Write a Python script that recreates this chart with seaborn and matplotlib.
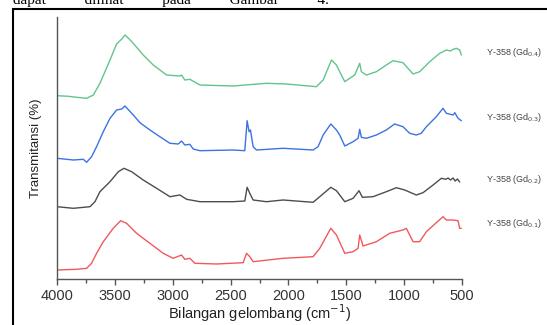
import numpy as np
import pandas as pd
import matplotlib
matplotlib.use("Agg")
import matplotlib.pyplot as plt
from matplotlib.patches import Rectangle
from matplotlib.ticker import MultipleLocator
import seaborn as sns

# ---- data (wavenumber cm^-1, relative transmittance, stacked offsets) ----
green_w = [4000, 3900, 3830, 3744, 3686, 3629, 3542, 3485, 3440, 3413, 3380, 3341, 3255, 3168, 3053,
           2938, 2924, 2895, 2852, 2765, 2478, 2190, 2017, 1758, 1700, 1628, 1585, 1557,
           1513, 1470, 1427, 1384, 1370, 1326, 1240, 1154, 1096, 1010, 923, 866, 779, 693,
           635, 600, 577, 549, 520, 506]
green_t = [184.3, 183.7, 182.7, 181.7, 185.0, 196.7, 220.0, 236.0, 241.0, 245.0, 241.5, 236.7, 225.0, 215.0, 205.0,
           204.0, 205.0, 200.0, 200.7, 195.0, 194.0, 196.7, 196.0, 193.3, 200.0, 220.0, 215.0, 208.3,
           198.3, 201.7, 205.0, 216.7, 208.3, 205.0, 208.3, 215.0, 219.3, 217.3, 206.0, 208.3, 218.3, 226.7,
           230.0, 229.0, 230.7, 231.7, 230.0, 225.0]

blue_w = [4000, 3859, 3773, 3744, 3701, 3658, 3600, 3542, 3485, 3440, 3413, 3341, 3283, 3197, 3111,
          3024, 2952, 2924, 2895, 2852, 2823, 2765, 2478, 2377, 2357, 2340, 2328, 2305, 2276,
          2046, 1787, 1744, 1700, 1634, 1585, 1557, 1513, 1441, 1398, 1384, 1370, 1326, 1240,
          1154, 1082, 1010, 952, 895, 852, 808, 722, 664, 635, 577, 562, 534, 506]
blue_t = [121.7, 120.0, 120.7, 117.7, 123.3, 133.3, 148.3, 161.7, 170.0, 171.0, 174.0, 165.0, 157.3, 150.0, 143.3,
          136.7, 136.0, 139.0, 135.0, 135.7, 131.0, 129.3, 130.0, 129.3, 159.3, 148.3, 150.0, 133.3, 130.0,
          131.7, 130.0, 133.3, 145.0, 156.0, 150.0, 145.0, 134.0, 138.3, 141.7, 150.7, 142.7, 141.7, 145.0,
          150.0, 156.0, 153.3, 146.7, 145.0, 146.7, 153.3, 163.3, 171.7, 166.7, 165.0, 167.3, 161.7, 159.3]

gray_w = [4000, 3859, 3715, 3672, 3629, 3542, 3470, 3421, 3355, 3255, 3139, 3024, 2938, 2880,
          2765, 2478, 2377, 2357, 2334, 2305, 2190, 2046, 1787, 1729, 1634, 1585, 1513, 1441,
          1390, 1361, 1269, 1154, 1067, 995, 895, 837, 750, 678, 640, 620, 600, 577, 560, 540, 520]
gray_t = [73.3, 71.7, 73.3, 78.3, 88.3, 98.3, 108.3, 111.7, 108.3, 100.0, 91.7, 83.3, 85.0, 80.7,
          78.3, 78.3, 79.0, 92.7, 86.7, 80.0, 78.3, 80.0, 77.7, 83.3, 92.7, 89.3, 78.3, 81.7,
          89.3, 82.7, 83.3, 88.3, 92.3, 90.0, 85.0, 87.3, 95.0, 101.7, 100.7, 102.0, 100.0, 102.0, 99.0, 101.0, 98.0]

red_w = [4000, 3830, 3744, 3701, 3658, 3600, 3514, 3450, 3399, 3312, 3197, 3082, 2996, 2924,
         2895, 2852, 2808, 2621, 2391, 2362, 2334, 2305, 2046, 1787, 1729, 1634, 1585, 1513,
         1441, 1398, 1384, 1355, 1240, 1125, 1010, 981, 923, 866, 808, 722, 664, 635, 577,
         534, 520, 506]
red_t = [10.0, 10.7, 11.7, 16.7, 26.7, 38.3, 51.7, 59.3, 56.7, 46.7, 36.7, 26.7, 21.7, 25.0,
         20.7, 21.7, 16.7, 16.0, 17.3, 26.7, 23.3, 18.3, 21.7, 23.3, 31.7, 51.7, 45.0, 26.7,
         28.3, 31.7, 45.0, 34.0, 38.3, 46.7, 50.0, 51.7, 38.3, 38.3, 48.3, 57.3, 63.3, 60.0, 60.0,
         59.3, 51.7, 51.7]

series_labels = [r"Y-358 (Gd$_{0.4}$)", r"Y-358 (Gd$_{0.3}$)", r"Y-358 (Gd$_{0.2}$)", r"Y-358 (Gd$_{0.1}$)"]
label_y = [227.7, 162.7, 100.0, 56.0]
x_ticks = [4000, 3500, 3000, 2500, 2000, 1500, 1000, 500]

colors = ["#63c48c", "#3b73e0", "#4d4d4d", "#f0595e"]

sns.set_theme(style="white")
plt.rcParams['font.family'] = ['Liberation Sans', 'DejaVu Sans']

fig = plt.figure(figsize=(5.47, 3.25), dpi=100)
ax = fig.add_axes([57/547, 1 - 279/325, 405/547, (279 - 17)/325])

for w, t, c in zip([green_w, blue_w, gray_w, red_w], [green_t, blue_t, gray_t, red_t], colors):
    df = pd.DataFrame({"w": w, "t": t})
    sns.lineplot(data=df, x="w", y="t", color=c, linewidth=1.0, ax=ax, sort=False, estimator=None)

for lab, ly, c in zip(series_labels, label_y, colors):
    ax.text(290, ly, lab, fontsize=6.5, color="#444444", va="center", ha="left", clip_on=False)

ax.set_xlim(4000, 500)
ax.set_ylim(1, 263)
ax.set_xticks(x_ticks)
ax.set_xticklabels([str(v) for v in x_ticks])
ax.xaxis.set_minor_locator(MultipleLocator(250))
ax.set_yticks([])
for s in ["top", "right"]:
    ax.spines[s].set_visible(False)
for s in ["left", "bottom"]:
    ax.spines[s].set_color("#555555")
    ax.spines[s].set_linewidth(1.0)
ax.tick_params(axis="x", which="major", direction="out", length=4, width=1, color="#555555",
               labelsize=10.5, labelcolor="#333333", pad=3, bottom=True)
ax.tick_params(axis="x", which="minor", direction="out", length=3, width=1, color="#555555", bottom=True)
ax.set_xlabel("Bilangan gelombang (cm$^{-1}$)", fontsize=10.5, color="#222222", labelpad=0)
ax.set_ylabel("Transmitansi (%)", fontsize=9.5, color="#222222", labelpad=11)
ax.patch.set_alpha(0)

# document frame and clipped caption line above it
fig.patches.append(Rectangle((13/547, -0.2), 1.2, 0.2 + 1 - 9/325, transform=fig.transFigure,
                             fill=False, edgecolor="black", linewidth=1.5))
fig.text(13/547, 1 - 4/325, "dapat          dilihat          pada          Gambar          4.",
         family=["Liberation Serif", "DejaVu Serif"], fontsize=11, color="black", va="baseline", ha="left")

fig.savefig("out.png", dpi=100)
